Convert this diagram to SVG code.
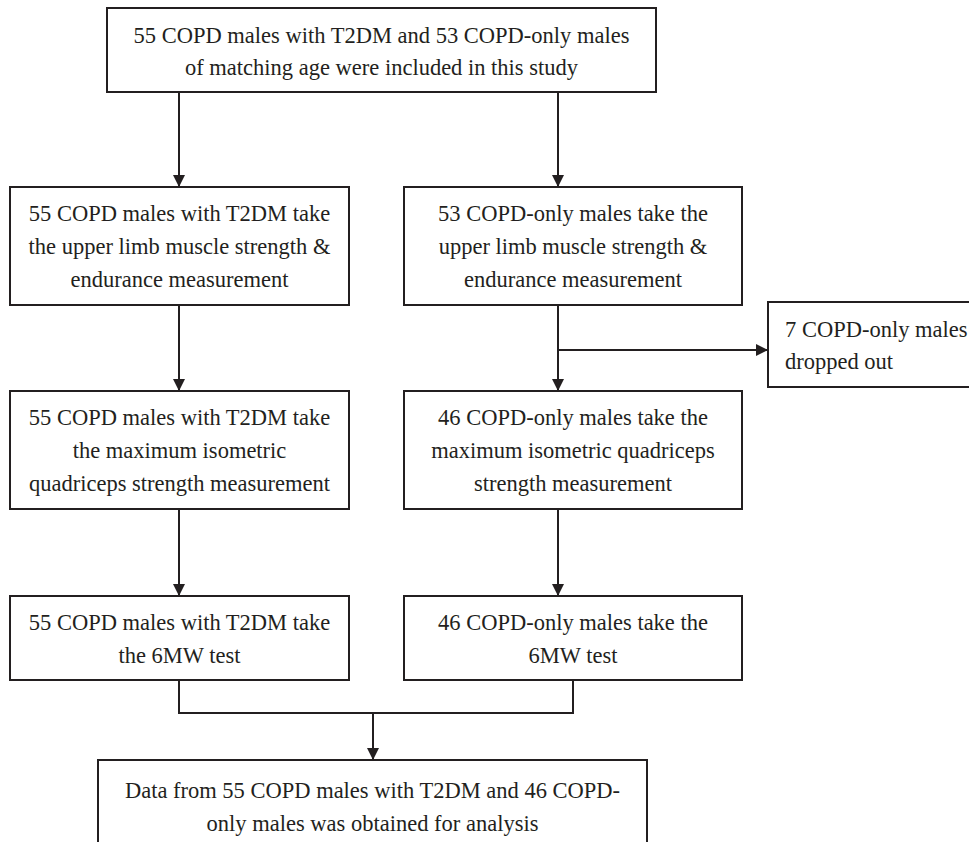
<svg xmlns="http://www.w3.org/2000/svg" width="969" height="842" viewBox="0 0 969 842">
<defs>
<marker id="arr" markerUnits="userSpaceOnUse" markerWidth="14" markerHeight="14" refX="12" refY="6" orient="auto">
<path d="M0,0 L12,6 L0,12 Z" fill="#231f20"/>
</marker>
<style>
.box{fill:#fff;stroke:#231f20;stroke-width:2}
.t{font-family:"Liberation Serif","Times New Roman",serif;font-size:22.5px;fill:#231f20;text-anchor:middle}
.tl{text-anchor:start}
.c{fill:none;stroke:#231f20;stroke-width:2}
</style>
</defs>
<rect width="969" height="842" fill="#fff"/>
<g id="connectors">
<line class="c" x1="179" y1="92" x2="179" y2="187" marker-end="url(#arr)"/>
<line class="c" x1="558" y1="92" x2="558" y2="187" marker-end="url(#arr)"/>
<line class="c" x1="179" y1="305" x2="179" y2="391" marker-end="url(#arr)"/>
<line class="c" x1="558" y1="305" x2="558" y2="391" marker-end="url(#arr)"/>
<line class="c" x1="558" y1="350" x2="768" y2="350" marker-end="url(#arr)"/>
<line class="c" x1="179" y1="509" x2="179" y2="596" marker-end="url(#arr)"/>
<line class="c" x1="558" y1="509" x2="558" y2="596" marker-end="url(#arr)"/>
<path class="c" d="M179,680 V713 H573 V680"/>
<line class="c" x1="373" y1="713" x2="373" y2="760" marker-end="url(#arr)"/>
</g>
<g id="n-top">
<rect class="box" x="107" y="8" width="549" height="84"/>
<text class="t" x="381.5" y="43">55 COPD males with T2DM and 53 COPD-only males</text>
<text class="t" x="381.5" y="75">of matching age were included in this study</text>
</g>
<g id="n-l1">
<rect class="box" x="10" y="187" width="339" height="118"/>
<text class="t" x="179.5" y="221">55 COPD males with T2DM take</text>
<text class="t" x="179.5" y="254">the upper limb muscle strength &amp;</text>
<text class="t" x="179.5" y="287">endurance measurement</text>
</g>
<g id="n-r1">
<rect class="box" x="404" y="187" width="338" height="118"/>
<text class="t" x="573" y="221">53 COPD-only males take the</text>
<text class="t" x="573" y="254">upper limb muscle strength &amp;</text>
<text class="t" x="573" y="287">endurance measurement</text>
</g>
<g id="n-drop">
<rect class="box" x="768" y="302" width="210" height="85"/>
<text class="t tl" x="785" y="337">7 COPD-only males</text>
<text class="t tl" x="785" y="369">dropped out</text>
</g>
<g id="n-l2">
<rect class="box" x="10" y="391" width="339" height="118"/>
<text class="t" x="179.5" y="425">55 COPD males with T2DM take</text>
<text class="t" x="179.5" y="458">the maximum isometric</text>
<text class="t" x="179.5" y="491">quadriceps strength measurement</text>
</g>
<g id="n-r2">
<rect class="box" x="404" y="391" width="338" height="118"/>
<text class="t" x="573" y="425">46 COPD-only males take the</text>
<text class="t" x="573" y="458">maximum isometric quadriceps</text>
<text class="t" x="573" y="491">strength measurement</text>
</g>
<g id="n-l3">
<rect class="box" x="10" y="596" width="339" height="84"/>
<text class="t" x="179.5" y="630">55 COPD males with T2DM take</text>
<text class="t" x="179.5" y="663">the 6MW test</text>
</g>
<g id="n-r3">
<rect class="box" x="404" y="596" width="338" height="84"/>
<text class="t" x="573" y="630">46 COPD-only males take the</text>
<text class="t" x="573" y="663">6MW test</text>
</g>
<g id="n-bottom">
<rect class="box" x="98" y="760" width="549" height="100"/>
<text class="t" x="372.5" y="798">Data from 55 COPD males with T2DM and 46 COPD-</text>
<text class="t" x="372.5" y="831">only males was obtained for analysis</text>
</g>
</svg>
